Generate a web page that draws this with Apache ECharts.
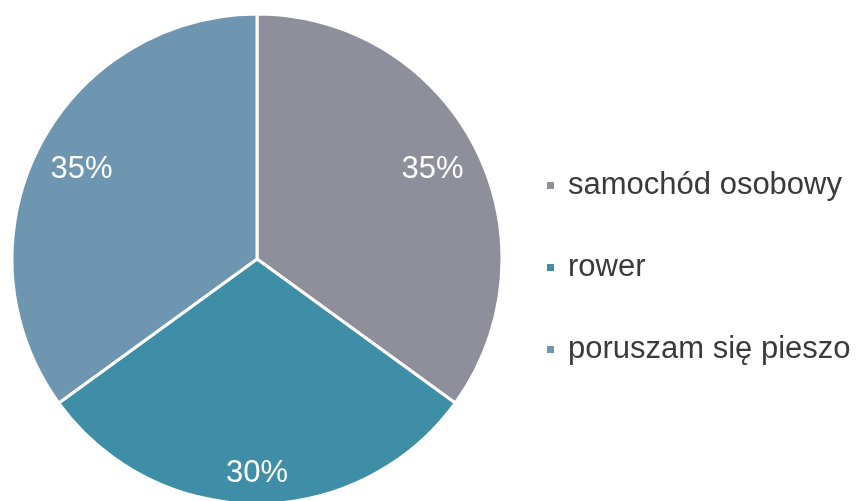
<!DOCTYPE html>
<html>
<head>
<meta charset="utf-8">
<script src="https://cdn.jsdelivr.net/npm/echarts@6/dist/echarts.min.js"></script>
<style>
  html, body { margin: 0; padding: 0; background: #ffffff; }
  #chart { width: 857px; height: 501px; }
</style>
</head>
<body>
<div id="chart"></div>
<script>
// Sposób dojazdu – udział procentowy
const categories = ['samochód osobowy', 'rower', 'poruszam się pieszo'];
const shares = [35, 30, 35];
const colors = ['#8e8f9b', '#3e8ea8', '#6e96b0'];

const PIE_CX = 257, PIE_CY = 259, PIE_R = 245, LABEL_MARGIN = 13;

const chart = echarts.init(document.getElementById('chart'), null, { renderer: 'canvas' });

// Push each label outward along its slice's mid-angle until its box
// sits just inside the outer edge ("inside end" placement).
function insideEnd(params) {
  const r = params.labelRect;
  const w = r.width, h = r.height;
  const lx = r.x + w / 2 - PIE_CX, ly = r.y + h / 2 - PIE_CY;
  const len = Math.sqrt(lx * lx + ly * ly) || 1;
  const ux = lx / len, uy = ly / len;
  let best = 0;
  for (let t = 0; t <= PIE_R; t += 0.5) {
    const px = Math.abs(ux * t) + w / 2, py = Math.abs(uy * t) + h / 2;
    if (Math.sqrt(px * px + py * py) <= PIE_R - LABEL_MARGIN) best = t; else break;
  }
  return {
    x: PIE_CX + ux * best,
    y: PIE_CY + uy * best,
    align: 'center',
    verticalAlign: 'middle'
  };
}

chart.setOption({
  backgroundColor: '#ffffff',
  animation: false,
  color: colors,
  legend: {
    orient: 'vertical',
    left: 545,
    top: 170,
    padding: 0,
    itemGap: 51,
    itemWidth: 9,
    itemHeight: 9,
    icon: 'rect',
    data: categories,
    textStyle: {
      fontFamily: 'Liberation Sans, Arial, sans-serif',
      fontSize: 31,
      lineHeight: 31,
      color: '#3a3a3a',
      padding: [0, 0, 0, 8]
    }
  },
  series: [{
    type: 'pie',
    center: [PIE_CX, PIE_CY],
    radius: PIE_R,
    startAngle: 90,
    clockwise: true,
    itemStyle: { borderColor: '#ffffff', borderWidth: 3 },
    label: {
      show: true,
      position: 'inside',
      formatter: '{c}%',
      color: '#ffffff',
      fontFamily: 'Liberation Sans, Arial, sans-serif',
      fontSize: 31
    },
    labelLine: { show: false },
    labelLayout: insideEnd,
    emphasis: { disabled: true },
    data: categories.map((name, i) => ({ name: name, value: shares[i] }))
  }]
});
</script>
</body>
</html>
